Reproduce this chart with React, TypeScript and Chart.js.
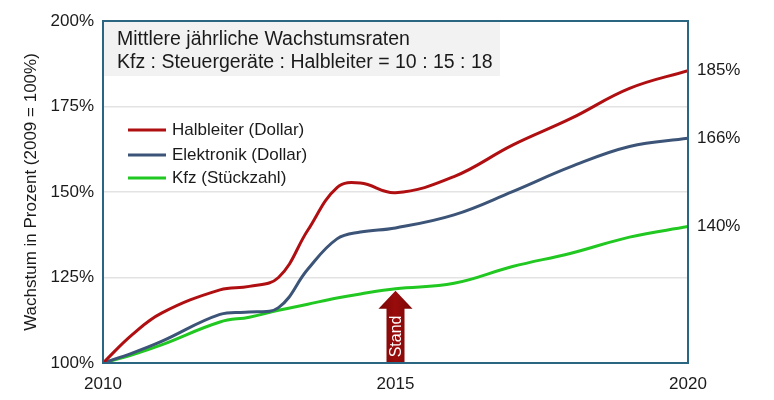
import React, { useEffect, useRef } from "react";
import { Chart, registerables } from "chart.js";

Chart.register(...registerables);

const years = [2010, 2010.5, 2011, 2012, 2012.5, 2013, 2013.5, 2014, 2014.4, 2015, 2016, 2017, 2018, 2019, 2020];
const halbleiter = [100, 108.3, 114.6, 121.4, 122.4, 125, 138.8, 151.3, 152.6, 149.8, 154.5, 163.7, 171.5, 180.3, 185.5];
const elektronik = [100, 102.9, 106.3, 114.2, 114.9, 116.2, 127.4, 136.3, 138.3, 139.5, 143.3, 150.1, 157.4, 163.3, 165.7];
const kfz = [100, 102.4, 105.3, 112, 113.4, 115.4, 117.2, 119, 120.2, 121.7, 123.3, 128.2, 132.1, 136.8, 139.9];

const seriesLabels = ["Halbleiter (Dollar)", "Elektronik (Dollar)", "Kfz (Stückzahl)"];
const endLabels = ["185%", "166%", "140%"];
const titleLines = ["Mittlere jährliche Wachstumsraten", "Kfz : Steuergeräte : Halbleiter = 10 : 15 : 18"];
const yAxisTitle = "Wachstum in Prozent (2009 = 100%)";
const standYear = 2015;
const standLabel = "Stand";

const FONT = "Arial, 'Liberation Sans', sans-serif";
const colors = ["#b00f12", "#3c5477", "#22c822"];
const axisColor = "#2a6682";

export default function App() {
  const ref = useRef<HTMLCanvasElement | null>(null);

  useEffect(() => {
    const canvas = ref.current;
    if (!canvas) return;
    const series = [halbleiter, elektronik, kfz];

    const overlay = {
      id: "overlay",
      beforeDatasetsDraw(chart: any) {
        const { ctx, chartArea: a } = chart;
        ctx.save();
        // title box
        ctx.fillStyle = "#f2f2f2";
        ctx.fillRect(a.left + 1, a.top + 1, 396, 54);
        ctx.fillStyle = "#1a1a1a";
        ctx.font = `19.5px ${FONT}`;
        ctx.textBaseline = "alphabetic";
        ctx.textAlign = "left";
        ctx.fillText(titleLines[0], a.left + 14, 45);
        ctx.fillText(titleLines[1], a.left + 14, 68);
        // legend
        ctx.font = `17px ${FONT}`;
        ctx.textBaseline = "middle";
        const ly = [130, 155, 178];
        chart.data.datasets.forEach((ds: any, i: number) => {
          ctx.strokeStyle = ds.borderColor;
          ctx.lineWidth = 3;
          ctx.beginPath();
          ctx.moveTo(128, ly[i]);
          ctx.lineTo(166, ly[i]);
          ctx.stroke();
          ctx.fillStyle = "#1a1a1a";
          ctx.fillText(ds.label, 172, ly[i]);
        });
        ctx.restore();
      },
      afterDatasetsDraw(chart: any) {
        const { ctx, chartArea: a, scales } = chart;
        const xs = scales.x;
        const ys = scales.y;
        ctx.save();
        // border
        ctx.strokeStyle = axisColor;
        ctx.lineWidth = 2;
        ctx.strokeRect(a.left, a.top, a.right - a.left, a.bottom - a.top);
        // end labels
        ctx.fillStyle = "#1a1a1a";
        ctx.font = `17px ${FONT}`;
        ctx.textAlign = "left";
        ctx.textBaseline = "middle";
        series.forEach((s, i) => {
          ctx.fillText(endLabels[i], a.right + 9, ys.getPixelForValue(s[s.length - 1]));
        });
        // Stand arrow
        const idx = years.indexOf(standYear);
        const cx = xs.getPixelForValue(standYear);
        const tipY = ys.getPixelForValue(kfz[idx]) + 2;
        const headH = 18;
        const shaftW = 18;
        const headW = 34;
        const bottom = a.bottom - 1;
        const grad = ctx.createLinearGradient(cx - headW / 2, 0, cx + headW / 2, 0);
        grad.addColorStop(0, "#7a0606");
        grad.addColorStop(0.5, "#9a0c0c");
        grad.addColorStop(1, "#7a0606");
        ctx.fillStyle = grad;
        ctx.beginPath();
        ctx.moveTo(cx, tipY);
        ctx.lineTo(cx + headW / 2, tipY + headH);
        ctx.lineTo(cx + shaftW / 2, tipY + headH);
        ctx.lineTo(cx + shaftW / 2, bottom);
        ctx.lineTo(cx - shaftW / 2, bottom);
        ctx.lineTo(cx - shaftW / 2, tipY + headH);
        ctx.lineTo(cx - headW / 2, tipY + headH);
        ctx.closePath();
        ctx.fill();
        ctx.translate(cx + 1, (tipY + headH + bottom) / 2 + 1);
        ctx.rotate(-Math.PI / 2);
        ctx.fillStyle = "#ffffff";
        ctx.font = `16px ${FONT}`;
        ctx.textAlign = "center";
        ctx.textBaseline = "middle";
        ctx.fillText(standLabel, 0, 0);
        ctx.restore();
      },
    };

    const chart = new Chart(canvas, {
      type: "line",
      data: {
        datasets: series.map((s, i) => ({
          label: seriesLabels[i],
          data: s.map((v, j) => ({ x: years[j], y: v })),
          borderColor: colors[i],
          backgroundColor: colors[i],
          borderWidth: 3,
          pointRadius: 0,
          tension: 0.4,
          fill: false,
        })),
      },
      options: {
        responsive: false,
        animation: false,
        layout: { padding: { left: 0, right: 86, top: 21, bottom: 0 } },
        plugins: { legend: { display: false }, tooltip: { enabled: false } },
        scales: {
          x: {
            type: "linear",
            min: 2010,
            max: 2020,
            afterFit: (s: any) => { s.height = 37; },
            ticks: {
              stepSize: 5,
              padding: 3,
              color: "#1a1a1a",
              font: { family: FONT, size: 17 },
              callback: (v: any) => String(v),
              maxRotation: 0,
            },
            grid: { display: false },
            border: { display: false },
          },
          y: {
            min: 100,
            max: 200,
            afterFit: (s: any) => { s.width = 103; },
            ticks: {
              stepSize: 25,
              padding: 9,
              color: "#1a1a1a",
              font: { family: FONT, size: 17 },
              callback: (v: any) => v + "%",
            },
            grid: {
              drawTicks: false,
              color: (c: any) => (c.tick && c.tick.value > 100 && c.tick.value < 200 ? "#e3e3e3" : "rgba(0,0,0,0)"),
              lineWidth: 1.5,
            },
            border: { display: false },
            title: {
              display: true,
              text: yAxisTitle,
              color: "#1a1a1a",
              font: { family: FONT, size: 17 },
              padding: { top: 21, bottom: 0 },
            },
          },
        },
      },
      plugins: [overlay],
    });
    return () => chart.destroy();
  }, []);

  return (
    <div style={{ position: "fixed", left: 0, top: 0, width: 774, height: 400, background: "#fff" }}>
      <canvas ref={ref} width={774} height={400} />
    </div>
  );
}
